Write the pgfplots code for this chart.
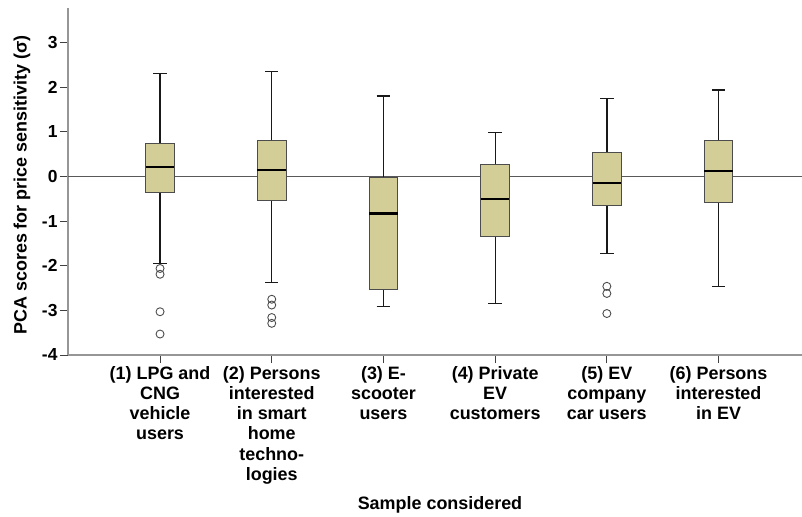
\documentclass[border=0pt]{standalone}
\usepackage{pgfplots}
\pgfplotsset{compat=1.18}
\usepgfplotslibrary{statistics}
\usepackage{fontspec}
\setmainfont{Liberation Sans}
\definecolor{boxfill}{RGB}{211,206,152}
\definecolor{axgray}{RGB}{150,150,150}
\begin{document}
\begin{tikzpicture}
\begin{axis}[
  scale only axis, width=734bp, height=347bp,
  xmin=0.176, xmax=6.747, ymin=-4, ymax=3.78,
  axis x line*=bottom, axis y line*=left,
  axis line style={draw=axgray, line width=1.4pt, -},
  xtick={1,...,6}, ytick={-4,...,3},
  tick align=outside, major tick length=8bp,
  tick style={draw=black!75, line width=1pt},
  /pgf/number format/assume math mode=true,
  yticklabel style={font=\bfseries\fontsize{17.5}{19}\selectfont, xshift=1bp},
  xticklabel style={font=\bfseries\fontsize{18}{20.2}\selectfont, align=center, anchor=north, yshift=0bp},
  xticklabels={{(1) LPG and\\CNG\\vehicle\\users},
               {(2) Persons\\interested\\in smart\\home\\techno-\\logies},
               {(3) E-\\scooter\\users},
               {(4) Private\\EV\\customers},
               {(5) EV\\company\\car users},
               {(6) Persons\\interested\\in EV}},
  xlabel={Sample considered},
  xlabel style={font=\bfseries\fontsize{18}{20}\selectfont, at={(axis description cs:0.5,0)}, anchor=center, yshift=-150bp, xshift=5bp},
  ylabel={PCA scores for price sensitivity (σ)},
  ylabel style={font=\bfseries\fontsize{18}{20}\selectfont, at={(axis description cs:0,0.5)}, anchor=center, yshift=46bp, xshift=-3.5bp},
  extra y ticks={0}, extra y tick labels={},
  extra y tick style={grid=major, major grid style={draw=black!65, line width=1pt}, major tick length=0pt},
  boxplot/draw direction=y,
  boxplot/box extend=0.256,
  boxplot/whisker extend=0.12,
  boxplot/every box/.style={draw=black!70, fill=boxfill, line width=1pt},
  boxplot/every whisker/.style={draw=black!90, line width=1.3pt},
  boxplot/every median/.style={draw=black, line width=2.4pt},
  clip=false,
]
\addplot[boxplot prepared={draw position=1, lower whisker=-1.95, lower quartile=-0.36, median=0.22, upper quartile=0.74, upper whisker=2.31},
  mark=o, mark size=4bp, mark options={draw=black!70, line width=0.9pt, fill=none}]
  table[row sep=\\, y index=0] {data\\ -2.06\\ -2.19\\ -3.03\\ -3.53\\};
\addplot[boxplot prepared={draw position=2, lower whisker=-2.38, lower quartile=-0.53, median=0.15, upper quartile=0.80, upper whisker=2.35},
  mark=o, mark size=4bp, mark options={draw=black!70, line width=0.9pt, fill=none}]
  table[row sep=\\, y index=0] {data\\ -2.75\\ -2.88\\ -3.16\\ -3.29\\};
\addplot[boxplot prepared={draw position=3, lower whisker=-2.92, lower quartile=-2.54, median=-0.83, upper quartile=-0.02, upper whisker=1.81}]
  coordinates {};
\addplot[boxplot prepared={draw position=4, lower whisker=-2.84, lower quartile=-1.35, median=-0.50, upper quartile=0.27, upper whisker=0.99}]
  coordinates {};
\addplot[boxplot prepared={draw position=5, lower whisker=-1.72, lower quartile=-0.65, median=-0.15, upper quartile=0.54, upper whisker=1.75},
  mark=o, mark size=4bp, mark options={draw=black!70, line width=0.9pt, fill=none}]
  table[row sep=\\, y index=0] {data\\ -2.46\\ -2.62\\ -3.07\\};
\addplot[boxplot prepared={draw position=6, lower whisker=-2.46, lower quartile=-0.58, median=0.12, upper quartile=0.80, upper whisker=1.94}]
  coordinates {};
\coordinate (bl) at (rel axis cs:0,0);
\coordinate (tr) at (rel axis cs:1,1);
\end{axis}
\pgfresetboundingbox
\path ([shift={(-68bp,-162bp)}]bl) rectangle ([shift={(0bp,8bp)}]tr);
\end{tikzpicture}
\end{document}
